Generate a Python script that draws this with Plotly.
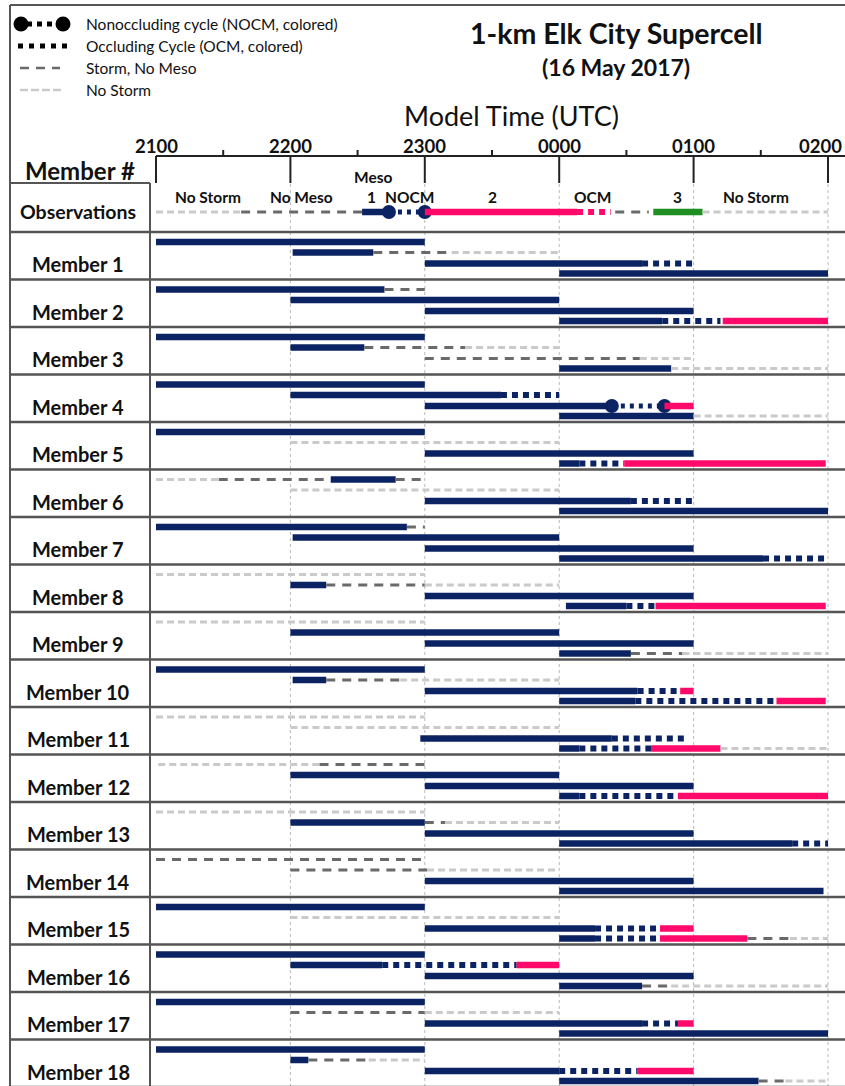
import plotly.graph_objects as go

# ---------------- data (minutes after 2100 UTC) ----------------
HOUR_LABELS = ["2100", "2200", "2300", "0000", "0100", "0200"]
HOUR_MIN = [0, 60, 120, 180, 240, 300]
HALF_HOUR_MIN = [30, 90, 150, 210, 270]

MEMBERS = [f"Member {i}" for i in range(1, 19)]

# Segment codes: M meso (navy), O occluding cycle (navy squares), P colored cycle (pink),
# Q pink occluding squares, G third cycle (green), C nonoccluding cycle, S storm/no meso,
# N no storm
OBSERVED = [("N", 0, 38), ("S", 38, 92), ("M", 92, 104), ("C", 104, 120),
            ("P", 120, 188), ("Q", 188, 203), ("S", 205, 220), ("G", 222, 244),
            ("N", 244, 300)]
OBS_LABELS = [("No Storm", 23, 197), ("No Meso", 65, 197), ("Meso", 97, 177),
              ("1", 96, 197), ("NOCM", 113, 197), ("2", 150, 197), ("OCM", 195, 197),
              ("3", 233, 197), ("No Storm", 268, 197)]

# forecast initialised 2100
TRACK_2100 = [
    [("M", 0, 120)],
    [("M", 0, 102), ("S", 102, 120)],
    [("M", 0, 120)],
    [("M", 0, 120)],
    [("M", 0, 120)],
    [("N", 0, 28), ("S", 28, 78), ("M", 78, 107), ("S", 107, 120)],
    [("M", 0, 112), ("S", 112, 120)],
    [("N", 0, 120)],
    [("N", 0, 120)],
    [("M", 0, 120)],
    [("N", 0, 120)],
    [("N", 1, 73), ("S", 73, 120)],
    [("N", 0, 120)],
    [("S", 0, 120)],
    [("M", 0, 120)],
    [("M", 0, 120)],
    [("M", 0, 120)],
    [("M", 0, 120)],
]
# forecast initialised 2200
TRACK_2200 = [
    [("M", 61, 97), ("S", 97, 132), ("N", 132, 180)],
    [("M", 60, 180)],
    [("M", 60, 93), ("S", 93, 138), ("N", 138, 180)],
    [("M", 60, 154), ("O", 154, 180)],
    [("N", 60, 180)],
    [("N", 60, 180)],
    [("M", 61, 180)],
    [("M", 60, 76), ("S", 76, 120), ("N", 120, 180)],
    [("M", 60, 180)],
    [("M", 61, 76), ("S", 76, 109), ("N", 109, 180)],
    [("N", 60, 180)],
    [("M", 60, 180)],
    [("M", 60, 120), ("S", 120, 129), ("N", 129, 180)],
    [("S", 60, 121), ("N", 121, 180)],
    [("N", 60, 180)],
    [("M", 60, 101), ("O", 101, 161), ("P", 161, 180)],
    [("S", 60, 120), ("N", 120, 180)],
    [("M", 60, 68), ("S", 68, 95), ("N", 95, 120)],
]
# forecast initialised 2300
TRACK_2300 = [
    [("M", 120, 217), ("O", 217, 240)],
    [("M", 120, 240)],
    [("S", 120, 216), ("N", 216, 240)],
    [("M", 120, 203.5), ("C", 203.5, 227), ("P", 227, 240)],
    [("M", 120, 240)],
    [("M", 120, 212), ("O", 212, 240)],
    [("M", 120, 240)],
    [("M", 120, 240)],
    [("M", 120, 240)],
    [("M", 120, 215), ("O", 215, 234), ("P", 234, 240)],
    [("M", 118, 203.5), ("O", 203.5, 237)],
    [("M", 120, 240)],
    [("M", 120, 240)],
    [("M", 120, 240)],
    [("M", 120, 196), ("O", 196, 225), ("P", 225, 240)],
    [("M", 120, 240)],
    [("M", 120, 217), ("O", 217, 233), ("P", 233, 240)],
    [("M", 120, 180), ("O", 180, 215), ("P", 215, 240)],
]
# forecast initialised 0000
TRACK_0000 = [
    [("M", 180, 300)],
    [("M", 180, 226), ("O", 226, 252), ("P", 253, 300)],
    [("M", 180, 230), ("N", 230, 300)],
    [("M", 180, 240), ("N", 240, 300)],
    [("M", 180, 189), ("O", 189, 209), ("P", 209, 299)],
    [("M", 180, 300)],
    [("M", 180, 271), ("O", 271, 300)],
    [("M", 183, 210), ("O", 210, 223), ("P", 223, 299)],
    [("M", 180, 212), ("S", 212, 235), ("N", 235, 300)],
    [("M", 180, 214), ("O", 214, 277), ("P", 277, 299)],
    [("M", 180, 189), ("O", 189, 221), ("P", 221, 252), ("N", 252, 300)],
    [("M", 180, 189), ("O", 189, 232), ("P", 233, 300)],
    [("M", 180, 284), ("O", 284, 300)],
    [("M", 180, 298)],
    [("M", 180, 196), ("O", 196, 225), ("P", 225, 264), ("S", 264, 283), ("N", 283, 300)],
    [("M", 180, 217), ("S", 217, 230), ("N", 230, 300)],
    [("M", 180, 300)],
    [("M", 180, 269), ("S", 269, 281), ("N", 281, 300)],
]
TRACKS = [TRACK_2100, TRACK_2200, TRACK_2300, TRACK_0000]

LEGEND_TEXT = ["Nonoccluding cycle (NOCM, colored)", "Occluding Cycle (OCM, colored)",
               "Storm, No Meso", "No Storm"]

# ---------------- geometry and styling ----------------
W, H = 845, 1086
X0_PX, PX_PER_MIN = 156, 2.24
ROW0, ROW_H = 232, 47.5
TRACK_OFF = [10, 20.5, 31.5, 41.5]
OBS_Y = 211
AXIS_Y = 156
FONT = "Lato"

NAVY = "#0b2263"
PINK = "#ff0a6a"
GREEN = "#1f8f24"
DARK = "#6a6a6a"
LIGHT = "#cacaca"
FRAME = "#555555"

STYLE = {
    "M": dict(color=NAVY, width=6.5, dash="solid"),
    "O": dict(color=NAVY, width=6, dash="6px,5px"),
    "P": dict(color=PINK, width=6.5, dash="solid"),
    "Q": dict(color=PINK, width=6, dash="6px,5px"),
    "G": dict(color=GREEN, width=6.5, dash="solid"),
    "C": dict(color=NAVY, width=5, dash="4px,5px"),
    "S": dict(color=DARK, width=3, dash="9px,7px"),
    "N": dict(color=LIGHT, width=3, dash="7px,4px"),
}


def t_of_px(px):
    return (px - X0_PX) / PX_PER_MIN


fig = go.Figure()


def add_segments(segments, y):
    for code, t0, t1 in segments:
        fig.add_trace(go.Scatter(x=[t0, t1], y=[y, y], mode="lines", line=STYLE[code],
                                 hoverinfo="skip", showlegend=False))
        if code == "C":
            fig.add_trace(go.Scatter(x=[t0, t1], y=[y, y], mode="markers",
                                     marker=dict(color=NAVY, size=14),
                                     hoverinfo="skip", showlegend=False))


add_segments(OBSERVED, OBS_Y + 1)
for k, track in enumerate(TRACKS):
    for i, segs in enumerate(track):
        add_segments(segs, ROW0 + i * ROW_H + TRACK_OFF[k])

# legend glyphs (pixel axis)
lg = dict(hoverinfo="skip", showlegend=False, xaxis="x2", yaxis="y")
fig.add_trace(go.Scatter(x=[27, 57], y=[24, 24], mode="lines",
                         line=dict(color="black", width=5, dash="5px,5px"), **lg))
fig.add_trace(go.Scatter(x=[21, 63], y=[24, 24], mode="markers",
                         marker=dict(color="black", size=15), **lg))
fig.add_trace(go.Scatter(x=[18, 68], y=[46, 46], mode="lines",
                         line=dict(color="black", width=5, dash="5px,6px"), **lg))
fig.add_trace(go.Scatter(x=[20, 60], y=[68, 68], mode="lines",
                         line=dict(color=DARK, width=2.5, dash="9px,7px"), **lg))
fig.add_trace(go.Scatter(x=[20, 62], y=[90, 90], mode="lines",
                         line=dict(color=LIGHT, width=2.5, dash="8px,3px"), **lg))

shapes = []


def pline(x0, y0, x1, y1, color=FRAME, width=2, dash="solid", xref="x2", layer="above"):
    shapes.append(dict(type="line", xref=xref, yref="y", x0=x0, y0=y0, x1=x1, y1=y1,
                       line=dict(color=color, width=width, dash=dash), layer=layer))


# dotted hour guides
for m in HOUR_MIN[1:]:
    pline(m, 184, m, H, color="#b8b8b8", width=1, dash="dot", xref="x", layer="below")
# frame
pline(10, 5, W, 5)
pline(10, 5, 10, H)
pline(150, 183, 150, H)
pline(10, 183, 150, 183)
for i in range(19):
    y = ROW0 + i * ROW_H
    pline(10, y, W, y, width=2.5)
# time axis
pline(X0_PX, AXIS_Y, W, AXIS_Y, color="#222", width=2)
for m in HOUR_MIN:
    pline(m, AXIS_Y, m, 183, color="#222", width=2, xref="x")
for m in HALF_HOUR_MIN:
    pline(m, AXIS_Y - 6, m, AXIS_Y, color="#222", width=2, xref="x")

ann = []


def text(x, y, s, size, bold=False, xref="x2", anchor="center", color="#111"):
    ann.append(dict(x=x, y=y, xref=xref, yref="y", text=f"<b>{s}</b>" if bold else s,
                    showarrow=False, xanchor=anchor, yanchor="middle",
                    font=dict(family=FONT, size=size, color=color)))


text(616, 33, "1-km Elk City Supercell", 28.5, bold=True)
text(616, 67, "(16 May 2017)", 23, bold=True)
text(511, 115, "Model Time (UTC)", 27)
for lab, m in zip(HOUR_LABELS, HOUR_MIN):
    if m == HOUR_MIN[-1]:
        # last hour label sits against the right edge of the page
        text(W - 1, 146, lab, 18.5, bold=True, anchor="right")
    else:
        text(m, 146, lab, 18.5, bold=True, xref="x")
text(80, 170, "Member #", 24, bold=True)
text(78, 211, "Observations", 19.5, bold=True)
for i, name in enumerate(MEMBERS):
    text(78, ROW0 + i * ROW_H + 32, name, 20, bold=True)
for s, m, y in OBS_LABELS:
    text(m, y, s, 15.5, bold=True, xref="x")
for j, s in enumerate(LEGEND_TEXT):
    text(84, 24 + 22 * j, s, 15.5, anchor="left")

fig.update_layout(
    width=W, height=H, margin=dict(l=0, r=0, t=0, b=0),
    paper_bgcolor="white", plot_bgcolor="white",
    xaxis=dict(range=[t_of_px(0), t_of_px(W)], visible=False, fixedrange=True),
    xaxis2=dict(range=[0, W], overlaying="x", visible=False, anchor="y"),
    yaxis=dict(range=[H, 0], visible=False),
    shapes=shapes, annotations=ann,
)
fig.write_html("out.html")
